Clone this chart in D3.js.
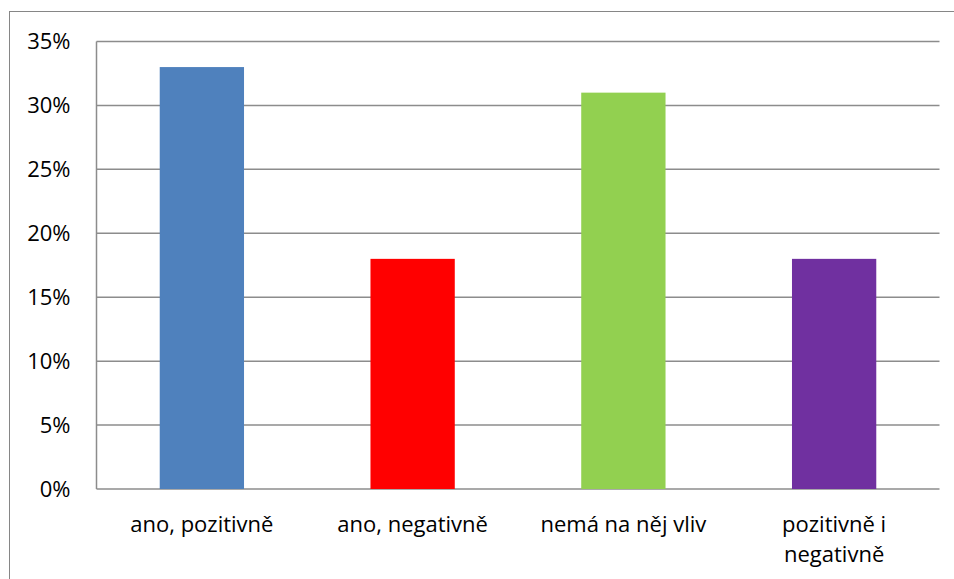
<!DOCTYPE html>
<html>
<head>
<meta charset="utf-8">
<script src="https://cdn.jsdelivr.net/npm/d3@7"></script>
<style>
  body { margin: 0; background: #fff; }
  text { font-family: "Open Sans", "Noto Sans", sans-serif; fill: #000; }
</style>
</head>
<body>
<script>
// chart data
var categories = ["ano, pozitivně", "ano, negativně", "nemá na něj vliv", "pozitivně i negativně"];
var values = [33, 18, 31, 18];
var colors = ["#4f81bd", "#ff0000", "#92d050", "#7030a0"];
var yTicks = [0, 5, 10, 15, 20, 25, 30, 35];

var W = 954, H = 579;
var margin = {top: 41.5, right: 15, bottom: 90, left: 96.5},
    width = 939.5 - margin.left,
    height = 489 - margin.top;

var svg = d3.select("body").append("svg")
    .attr("width", W)
    .attr("height", H);

// outer chart border
svg.append("rect")
    .attr("x", 9.5).attr("y", 11.5)
    .attr("width", W).attr("height", H)
    .attr("fill", "none")
    .attr("stroke", "#868686")
    .attr("stroke-width", 1);

var g = svg.append("g")
    .attr("transform", "translate(" + margin.left + "," + margin.top + ")");

var x = d3.scaleBand().domain(categories).range([0, width])
    .paddingInner(0.6).paddingOuter(0.3);
var y = d3.scaleLinear().domain([0, 35]).range([height, 0]);

// gridlines
g.append("g")
  .selectAll("line")
  .data(yTicks)
  .enter().append("line")
    .attr("x1", 0).attr("x2", width)
    .attr("y1", d => y(d)).attr("y2", d => y(d))
    .attr("stroke", "#8c8c8c")
    .attr("stroke-width", 1.5);

// y axis line
g.append("line")
    .attr("x1", 0).attr("x2", 0)
    .attr("y1", 0).attr("y2", height)
    .attr("stroke", "#8c8c8c")
    .attr("stroke-width", 1.5);

// bars
g.selectAll(".bar")
  .data(values)
  .enter().append("rect")
    .attr("class", "bar")
    .attr("x", (d, i) => x(categories[i]))
    .attr("width", x.bandwidth())
    .attr("y", d => y(d))
    .attr("height", d => height - y(d))
    .attr("fill", (d, i) => colors[i]);

// y tick labels
g.selectAll(".ylab")
  .data(yTicks)
  .enter().append("text")
    .attr("class", "ylab")
    .attr("x", -26)
    .attr("y", d => y(d))
    .attr("dy", "0.36em")
    .attr("text-anchor", "end")
    .style("font-size", "22px")
    .text(d => d + "%");

// x labels (wrap the long one into two lines)
var xLines = [["ano, pozitivně"], ["ano, negativně"], ["nemá na něj vliv"], ["pozitivně i", "negativně"]];
categories.forEach(function(c, i) {
  var t = g.append("text")
      .attr("text-anchor", "middle")
      .attr("x", x(c) + x.bandwidth() / 2)
      .attr("y", height + 43)
      .style("font-size", "22px");
  xLines[i].forEach(function(l, k) {
    t.append("tspan")
      .attr("x", x(c) + x.bandwidth() / 2)
      .attr("dy", k == 0 ? 0 : 30)
      .text(l);
  });
});
</script>
</body>
</html>
